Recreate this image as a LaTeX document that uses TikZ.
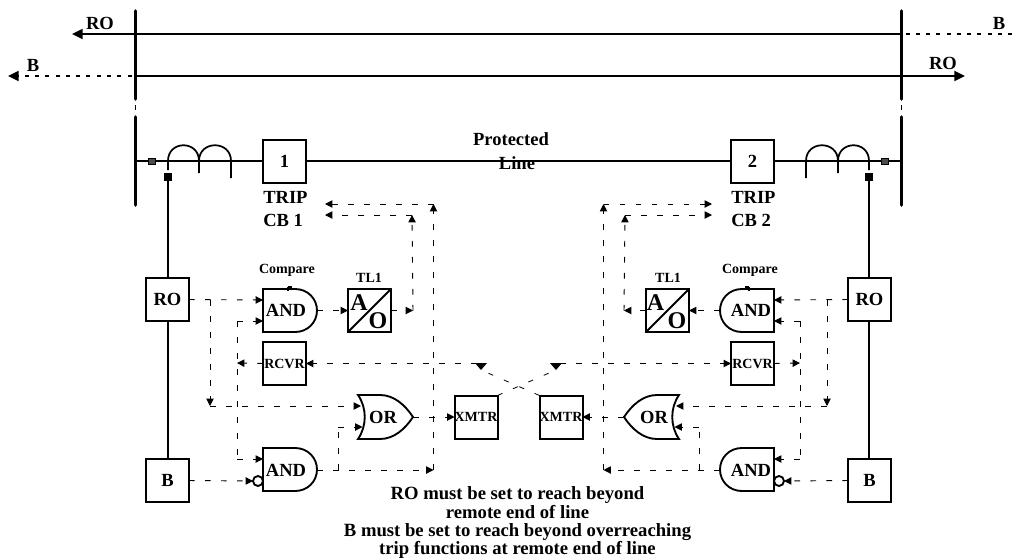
\documentclass[tikz,border=0pt]{standalone}
\usepackage{fontspec}
\setmainfont{Liberation Serif}
\usetikzlibrary{arrows.meta}
\tikzset{
  x=0.75pt,y=-0.75pt,
  bus/.style={line width=2.7pt,line cap=round},
  wire/.style={line width=1.5pt},
  dotline/.style={line width=2.2pt,dash pattern=on 3pt off 4.7pt},
  boxn/.style={draw,line width=1.5pt,minimum size=32.25pt,inner sep=0pt,outer sep=0pt},
  gate/.style={draw,line width=1.4pt},
  sig/.style={line width=0.7pt,dash pattern=on 4.3pt off 7.7pt},
  sigx/.style={line width=0.6pt,dash pattern=on 4pt off 8.6pt},
  head/.style={-{Triangle[length=5.5pt,width=5.5pt]}},
  big/.style={font=\fontsize{13.9}{17.2}\selectfont\bfseries,inner sep=0pt,align=left},
  mid/.style={font=\fontsize{10.5}{12}\selectfont\bfseries,inner sep=0pt},
  huge/.style={font=\fontsize{18}{20}\selectfont\bfseries,inner sep=0pt},
  note/.style={font=\fontsize{14}{14}\selectfont\bfseries,inner sep=0pt,align=center},
}
% #1 prefix, #2 side facing the centre, #3 side facing the bus, #4 breaker number,
% #5 and #6 local x of the letters A and O of the timer
\newcommand{\halfplan}[6]{%
  % bus and breaker
  \coordinate (#1-bt) at (135.5,11);
  \coordinate (#1-bb) at (135.5,99);
  \coordinate (#1-b2t) at (135.5,117);
  \coordinate (#1-b2b) at (135.5,205);
  \coordinate (#1-gt) at (135.5,105);
  \coordinate (#1-gb) at (135.5,110);
  \coordinate (#1-tap) at (135.5,161);
  \draw[bus] (#1-bt) -- (#1-bb);
  \draw[bus] (#1-b2t) -- (#1-b2b);
  \draw[line width=0.7pt] (#1-gt) -- (#1-gb);
  \node[boxn,big] (#1-cb) at (284.5,161.5) {#4};
  \node[big,anchor=north west] (#1-trip) at (#1-cb.south west) [yshift=-6.3pt] {TRIP\\CB #4};
  \draw[wire] (#1-tap) -- (#1-cb.#3 |- #1-tap);
  % current transformer
  \coordinate (#1-ct1) at (168,170);
  \coordinate (#1-ct2) at (199,173);
  \coordinate (#1-ct3) at (231,178);
  \draw[line width=1.3pt] (#1-ct1) -- (168,161) .. controls (168,140) and (199,140) .. (199,161) -- (#1-ct2);
  \draw[line width=1.3pt] (199,161) .. controls (199,140) and (231,140) .. (231,161) -- (#1-ct3);
  \draw[line width=2pt] (220,161) -- (243,161);
  \node[draw=black,fill=black!70,line width=.7pt,minimum size=5pt,inner sep=0pt] (#1-sq1) at (152,161.5) {};
  \node[fill=black,minimum size=5.5pt,inner sep=0pt] (#1-sq2) at (168,177) {};
  % relays
  \node[boxn,big] (#1-ro) at (167.5,299.5) {RO};
  \node[boxn,big] (#1-b) at (167.5,480.5) {B};
  \draw[wire] (#1-sq2) -- (#1-ro.north -| #1-sq2);
  \draw[wire] (#1-ro.south -| #1-sq2) -- (#1-b.north -| #1-sq2);
  % upper AND
  \draw[gate] (263,289) -- (295,289) .. controls (308,289) and (317,299) .. (317,310.5) .. controls (317,322) and (308,332) .. (295,332) -- (263,332) -- cycle;
  \node[big] (#1-and1) at (286,310.5) {AND};
  \node[mid] (#1-cmp) at (287,270) {Compare};
  \draw[line width=.8pt] (288,286.5) -- (288,291) (288,287) -- (292,287);
  \coordinate (#1-a1i1) at (263,300);
  \coordinate (#1-a1i2) at (263,321);
  \coordinate (#1-a1o) at (317,310.5);
  % timer
  \node[boxn] (#1-tl) at (369.5,310.5) {};
  \draw[line width=1.4pt] (#1-tl.south west) -- (#1-tl.north east);
  \node[huge] (#1-tla) at (#5,303) {A};
  \node[huge] (#1-tlo) at (#6,321) {O};
  \node[mid] (#1-tll) at (369,278) {TL1};
  % receiver, OR, transmitter
  \node[boxn,mid] (#1-rc) at (284.5,363.5) {RCVR};
  \draw[gate] (358,395) -- (380,395) .. controls (394,395) and (405,405) .. (413,417) .. controls (405,429) and (394,439) .. (380,439) -- (358,439) .. controls (367,426) and (367,408) .. (358,395) -- cycle;
  \node[big] (#1-or) at (383,417) {OR};
  \coordinate (#1-ori1) at (361,406);
  \coordinate (#1-ori2) at (362.5,427);
  \coordinate (#1-oro) at (413,417);
  \node[boxn,mid] (#1-xm) at (476,417) {XMTR};
  % lower AND
  \draw[gate] (263,448) -- (295,448) .. controls (308,448) and (317,458) .. (317,469.5) .. controls (317,481) and (308,491) .. (295,491) -- (263,491) -- cycle;
  \node[big] (#1-and2) at (286,470) {AND};
  \node[draw,line width=1.4pt,circle,fill=white,minimum size=7.5pt,inner sep=0pt,outer sep=0pt] (#1-inv) at (258,481) {};
  \coordinate (#1-a2i) at (263,459);
  \coordinate (#1-a2o) at (317,470);
  % signal junctions
  \coordinate (#1-j1) at (210,300);
  \coordinate (#1-j2) at (210,406);
  \coordinate (#1-j3) at (237,321);
  \coordinate (#1-j4) at (237,459);
  \coordinate (#1-j5) at (237,363);
  \coordinate (#1-j6) at (413,310.5);
  \coordinate (#1-j7) at (412,215);
  \coordinate (#1-j8) at (325,215);
  \coordinate (#1-j9) at (433.5,470);
  \coordinate (#1-j10) at (433.5,204);
  \coordinate (#1-j11) at (325,204);
  \coordinate (#1-j12) at (338,470);
  \coordinate (#1-j13) at (338,427);
  \coordinate (#1-j14) at (477,363.5);
  \coordinate (#1-j15) at (481,370);
  % signals
  \draw[sig,head] (#1-ro.#2) -- (#1-a1i1);
  \draw[sig,head] (#1-j1) -- (#1-j2);
  \draw[sig,head] (#1-j2) -- (#1-ori1);
  \draw[sig,head] (#1-j3) -- (#1-a1i2);
  \draw[sig] (#1-j3) -- (#1-j4);
  \draw[sig,head] (#1-j4) -- (#1-a2i);
  \draw[sig,head] (#1-rc.#3) -- (#1-j5);
  \draw[sig,head] (#1-j14) -- (#1-rc.#2);
  \draw[sig,head] (#1-a1o) -- (#1-tl.#3);
  \draw[sig,head] (#1-tl.#2) -- (#1-j6);
  \draw[sig,head] (#1-j6) -- (#1-j7);
  \draw[sig,head] (#1-j7) -- (#1-j8);
  \draw[sig,head] (#1-a2o) -- (#1-j9);
  \draw[sig,head] (#1-j9) -- (#1-j10);
  \draw[sig,head] (#1-j10) -- (#1-j11);
  \draw[sig] (#1-j12) -- (#1-j13);
  \draw[sig,head] (#1-j13) -- (#1-ori2);
  \draw[sig,head] (#1-oro) -- (#1-xm.#3);
  \draw[sig,head] (#1-b.#2) -- (#1-inv.#3);
  \fill (475,363) -- (487,363) -- (#1-j15) -- cycle;
}
\begin{document}
\begin{tikzpicture}
\useasboundingbox (0,0) rectangle (1018,558);
\begin{scope}
  \halfplan{L}{east}{west}{1}{359}{378}
\end{scope}
\begin{scope}[shift={(1037,0)},xscale=-1]
  \halfplan{R}{west}{east}{2}{381.5}{360}
\end{scope}
% crossing signals
\draw[sigx] (R-xm.north west) -- (L-j15);
\draw[sigx] (L-xm.north east) -- (R-j15);
% protected line
\draw[wire] (L-cb.east |- L-tap) -- (R-cb.west |- R-tap);
\draw[line width=1.8pt] (347,161) -- (350,161) (688,161) -- (691,161);
% transmission lines
\coordinate (aL) at (135.5,34);
\coordinate (aR) at (901.5,34);
\coordinate (aRO) at (72,34);
\coordinate (aB) at (1018,34);
\coordinate (cL) at (135.5,76);
\coordinate (cR) at (901.5,76);
\coordinate (cB) at (8,76);
\coordinate (cRO) at (965,76);
\draw[wire] (aL) -- (aR);
\draw[wire] (cL) -- (cR);
\draw[wire,-{Triangle[length=8pt,width=7.5pt]}] (aL) -- (aRO);
\draw[wire,-{Triangle[length=8pt,width=7.5pt]}] (cR) -- (cRO);
\draw[dotline] (aR) ++(4,0) -- (aB);
\draw[dotline] (cL) ++(-4,0) -- (18,76);
\draw[-{Triangle[length=8pt,width=7.5pt]},wire] (18,76) -- (cB);
% labels
\node[big] (tRO1) at (100,23) {RO};
\node[big] (tB1) at (33,65) {B};
\node[big] (tB2) at (999,23) {B};
\node[big] (tRO2) at (943,63) {RO};
\node[big] (tP) at (511,139) {Protected};
\node[big] (tLi) at (517,163) {Line};
\node[note] (tN1) at (517.5,495) {RO must be set to reach beyond};
\node[note] (tN2) at (517.5,512.5) {remote end of line};
\node[note] (tN3) at (517.5,532.5) {B must be set to reach beyond overreaching};
\node[note] (tN4) at (517.5,550) {trip functions at remote end of line};
\end{tikzpicture}
\end{document}
